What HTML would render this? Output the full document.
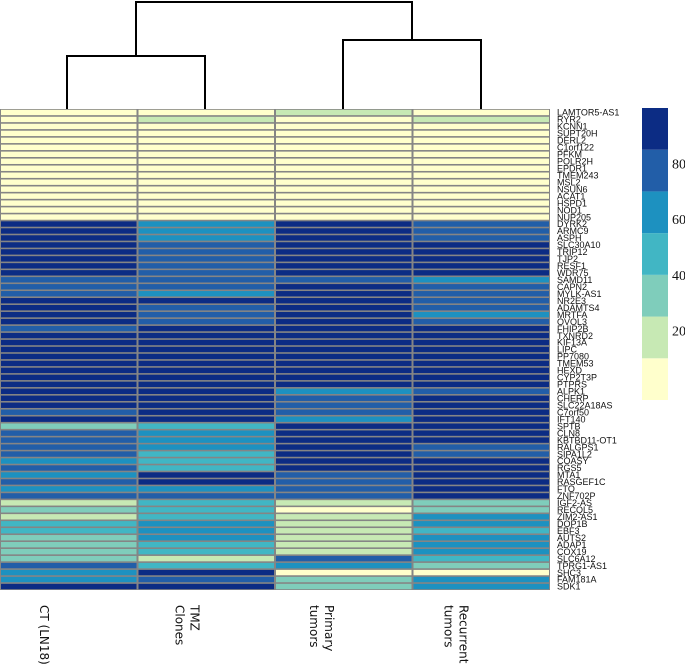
<!DOCTYPE html>
<html><head><meta charset="utf-8"><style>
html,body{margin:0;padding:0;background:#fff;}
svg{display:block;}
</style></head><body>
<svg id="chart" width="685" height="667" viewBox="0 0 685 667" xmlns="http://www.w3.org/2000/svg">
<g id="dendro" stroke="#000" stroke-width="2" fill="none">
<path d="M67,109 V56 H205 V109"/>
<path d="M343,109 V40 H481 V109"/>
<path d="M136,56 V2 H412 V40"/>
</g>
<g id="cells"></g>
<g id="rowlabels"></g>
<g id="collabels"></g>
<g id="legend"></g>
</svg>
<script>
const columns = ["CT (LN18)", "TMZ Clones", "Primary tumors", "Recurrent tumors"];
const genes = ["LAMTOR5-AS1","RYR2","KCNN1","SUPT20H","DERL2","C1orf122","PFKM","POLR2H","EPDR1","TMEM243","MSL2","NSUN6","ACAT1","HSPD1","NOD1","NUP205","DYRK2","ARMC9","ASPH","SLC30A10","TRIP12","TJP2","RESF1","WDR75","SAMD11","CAPN2","MYLK-AS1","NR2E3","ADAMTS4","MRTFA","OVOL3","FHIP2B","TXNRD2","KIF13A","LIPC","PP7080","TMEM53","HEXD","CYP2T3P","PTPRS","ALPK1","CHERP","SLC22A18AS","C7orf50","IFT140","SPTB","CLN8","KBTBD11-OT1","RALGPS1","SIPA1L2","COASY","RGS5","MTA1","RASGEF1C","FTO","ZNF702P","IGF2-AS","RECQL5","ZIM2-AS1","DOP1B","EBF3","AUTS2","ADAP1","COX19","SLC6A12","TPRG1-AS1","SHC3","FAM181A","SDK1"];
const ctValues = [3,3,3,3,3,3,3,3,3,3,3,3,3,3,3,3,92,92,92,92,92,92,92,92,77,77,77,92,92,92,92,77,92,92,92,92,92,92,92,92,92,92,92,77,92,32,77,77,77,77,62,77,62,77,62,77,18,32,18,47,47,32,32,32,32,77,62,62,92];
const tmzValues = [3,18,3,3,3,3,3,3,3,3,3,3,3,3,3,3,62,62,62,77,77,77,77,77,77,77,62,92,77,77,77,92,92,92,92,92,92,92,92,92,92,92,92,92,92,47,62,62,62,47,47,47,92,92,62,77,47,47,47,62,62,62,47,47,18,47,92,77,92];
const primaryValues = [18,3,3,3,3,3,3,3,3,3,3,3,3,3,3,3,92,92,92,92,92,92,92,92,77,92,92,92,92,92,92,92,92,92,92,92,92,92,92,92,62,77,77,77,62,92,92,92,92,92,92,92,77,77,77,77,18,3,18,18,18,18,18,18,77,62,3,32,32];
const recurrentValues = [3,18,3,3,3,3,3,3,3,3,3,3,3,3,3,3,77,77,77,92,92,92,92,92,62,77,77,77,77,62,77,92,92,92,92,92,92,92,92,92,77,92,92,92,92,92,92,92,77,77,92,92,92,92,92,92,32,32,62,62,47,62,62,62,47,32,3,62,62];
const legendTicks = [20, 40, 60, 80];
const binColors = ["#FFFFCC","#C7E9B4","#7FCDBB","#41B6C4","#1D91C0","#225EA8","#0C2C84"];

const NS = "http://www.w3.org/2000/svg";
const vMin = -5, vMax = 100, binW = 15;
const hmX0 = 0, hmX1 = 550, hmY0 = 109, hmY1 = 590;
const colW = (hmX1 - hmX0) / columns.length;
const rowH = (hmY1 - hmY0) / genes.length;
function colorOf(v){ let b = Math.floor((v - vMin) / binW); b = Math.max(0, Math.min(binColors.length-1, b)); return binColors[b]; }
function xOf(i){ return hmX0 + i * colW; }
function yOf(j){ return hmY0 + j * rowH; }
function mk(tag, attrs){ const e = document.createElementNS(NS, tag); for (const k in attrs) e.setAttribute(k, attrs[k]); return e; }

const cells = document.getElementById('cells');
const bg = mk('rect', {x: hmX0, y: hmY0, width: hmX1-hmX0, height: hmY1-hmY0, fill: '#858585'});


cells.appendChild(bg);
const series = [ctValues, tmzValues, primaryValues, recurrentValues];
series.forEach((vals, ci) => {
  vals.forEach((v, ri) => {
    const r = mk('rect', {x: xOf(ci)+1, y: yOf(ri)+0.8, width: colW-2, height: rowH-1.6, fill: colorOf(v)});
    
    
    cells.appendChild(r);
  });
});

const rl = document.getElementById('rowlabels');
genes.forEach((g, ri) => {
  const t = mk('text', {x: 557, y: yOf(ri) + rowH/2 + 3.2, 'font-family': 'Liberation Sans, sans-serif', 'font-size': '9', fill: '#111'});
  t.textContent = g;
  
  
  rl.appendChild(t);
});

const cl = document.getElementById('collabels');
const colLines = [["CT (LN18)"],["TMZ","Clones"],["Primary","tumors"],["Recurrent","tumors"]];
const firstLineOffset = [-29, -16, -19, -22];
colLines.forEach((lines, ci) => {
  const cx = xOf(ci) + colW/2;
  const g = mk('g', {transform: 'translate(' + (cx + firstLineOffset[ci]) + ',605) rotate(90)'});
  
  
  lines.forEach((ln, k) => {
    const t = mk('text', {x: 0, y: k*15, 'font-family': 'DejaVu Sans, Liberation Sans, sans-serif', 'font-size': '12', fill: '#111'});
    t.textContent = ln;
    g.appendChild(t);
  });
  cl.appendChild(g);
});

const lg = document.getElementById('legend');
const lgY0 = 108, lgY1 = 400, lgX = 642, lgW = 26;
function yLeg(v){ return lgY1 - (v - vMin) / (vMax - vMin) * (lgY1 - lgY0); }
binColors.forEach((c, b) => {
  const lo = vMin + b*binW, hi = lo + binW;
  const r = mk('rect', {x: lgX, y: yLeg(hi), width: lgW, height: yLeg(lo) - yLeg(hi), fill: c});
  
  
  lg.appendChild(r);
});
legendTicks.forEach(v => {
  const t = mk('text', {x: 672, y: yLeg(v) + 5, 'font-family': 'Liberation Serif, serif', 'font-size': '14', fill: '#111'});
  t.textContent = v;
  
  
  lg.appendChild(t);
});
</script>
</body></html>
